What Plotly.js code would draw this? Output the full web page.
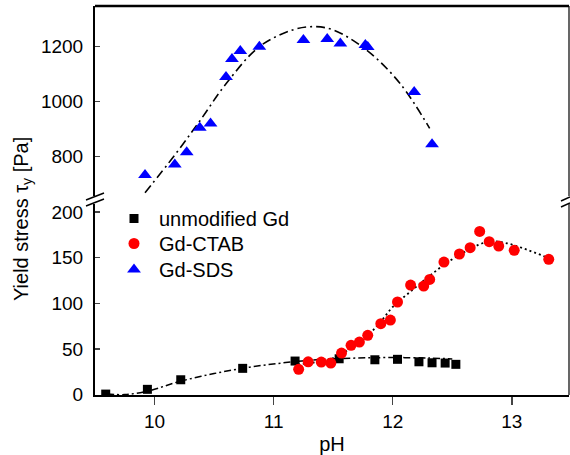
<!DOCTYPE html>
<html><head><meta charset="utf-8">
<script src="https://cdn.plot.ly/plotly-3.0.1.min.js"></script>
<style>body{margin:0;padding:0;background:#fff}#chart{width:570px;height:455px}</style>
</head><body><div id="chart"></div>
<script>
// ---- data ----
const unmodX = [9.59, 9.94, 10.22, 10.74, 11.18, 11.55, 11.85, 12.04, 12.22, 12.33, 12.44, 12.53];
const unmodY = [0.5, 5.7, 16.2, 28.7, 36.7, 39.2, 38.1, 38.6, 35.9, 34.8, 34.5, 33.1];

const ctabX = [11.21, 11.29, 11.40, 11.48, 11.57, 11.65, 11.72, 11.79, 11.90, 11.98, 12.04, 12.15, 12.26, 12.31, 12.43, 12.56, 12.65, 12.73, 12.81, 12.89, 13.02, 13.31];
const ctabY = [27.6, 35.9, 35.6, 34.5, 45.5, 53.9, 57.5, 64.9, 77.6, 81.6, 101.4, 120.0, 118.9, 126.2, 145.2, 154.0, 160.9, 178.8, 167.5, 162.7, 158.0, 148.2];

const sdsX = [9.92, 10.17, 10.27, 10.38, 10.47, 10.60, 10.65, 10.72, 10.88, 11.25, 11.45, 11.56, 11.77, 11.79, 12.18, 12.33];
const sdsY = [733, 772, 816, 905, 921, 1090, 1155, 1184, 1200, 1224, 1228, 1212, 1206, 1199, 1035, 845];

// fitted curves
const unmodFitX = [9.6, 9.75, 9.95, 10.2, 10.5, 10.8, 11.1, 11.4, 11.7, 12.0, 12.3, 12.5];
const unmodFitY = [0.5, 0, 4, 14, 23, 30, 35, 38.5, 40, 40.5, 40, 39];

const ctabFitX = [11.2, 11.35, 11.5, 11.65, 11.8, 11.9, 12.0, 12.15, 12.3, 12.45, 12.6, 12.72, 12.82, 12.95, 13.1, 13.3];
const ctabFitY = [33, 35.5, 40, 51, 66, 80, 96, 113, 129, 144, 156, 164, 168, 166, 160, 150];

const sdsFitX = [9.92, 10.17, 10.38, 10.6, 10.88, 11.16, 11.33, 11.5, 11.78, 12.06, 12.31];
const sdsFitY = [669, 806, 930, 1065, 1200, 1261, 1273, 1261, 1188, 1067, 903];

const seriesNames = ["unmodified Gd", "Gd-CTAB", "Gd-SDS"];
const xTicks = [10, 11, 12, 13];
const yLowTicks = [0, 50, 100, 150, 200];
const yHighTicks = [800, 1000, 1200];

// ---- layout geometry (pixels) ----
const W = 570, H = 455, ML = 95, MR = 1, MT = 6, MB = 60;
const PW = W - ML - MR, PH = H - MT - MB;
const px = v => (v - ML) / PW;          // pixel x -> paper
const py = v => (H - MB - v) / PH;       // pixel y -> paper
const lowTop = py(204), highBot = py(196);

const font = "Liberation Sans, Arial, sans-serif";

const traces = [
  {x: unmodFitX, y: unmodFitY, mode: "lines", line: {color: "#000", width: 1.5, dash: "7px,3px,2px,3px", shape: "spline"}, showlegend: false, hoverinfo: "skip"},
  {x: ctabFitX, y: ctabFitY, mode: "lines", line: {color: "#000", width: 1.8, dash: "2px,3px", shape: "spline"}, showlegend: false, hoverinfo: "skip"},
  {x: sdsFitX, y: sdsFitY, yaxis: "y2", mode: "lines", line: {color: "#000", width: 1.6, dash: "9px,4px,2px,4px", shape: "spline"}, showlegend: false, hoverinfo: "skip"},
  {x: unmodX, y: unmodY, name: seriesNames[0], legend: "legend", mode: "markers", marker: {symbol: "square", size: 9, color: "#000"}},
  {x: ctabX, y: ctabY, name: seriesNames[1], legend: "legend2", mode: "markers", marker: {symbol: "circle", size: 11, color: "#ff0000"}},
  {x: sdsX, y: sdsY, name: seriesNames[2], legend: "legend3", yaxis: "y2", mode: "markers", marker: {symbol: "triangle-up", size: 12, color: "#0000ff"}}
];

const ln = (x0, y0, x1, y1, w, c) => ({type: "line", xref: "paper", yref: "paper",
  x0: px(x0), y0: py(y0), x1: px(x1), y1: py(y1), line: {color: c || "#000", width: w}});

const legendAt = cy => ({x: px(109), y: py(cy - 18), xanchor: "left", yanchor: "top", itemwidth: 40,
  font: {size: 20, family: font}, bgcolor: "rgba(0,0,0,0)"});

const layout = {
  width: W, height: H,
  margin: {l: ML, r: MR, t: MT, b: MB},
  paper_bgcolor: "#fff", plot_bgcolor: "#fff",
  font: {family: font, color: "#000", size: 19},
  showlegend: true,
  legend: legendAt(217),
  legend2: legendAt(242),
  legend3: legendAt(268),
  xaxis: {range: [9.5, 13.48], tickvals: xTicks, ticks: "outside", ticklen: 8, tickwidth: 1.5,
          showline: true, linewidth: 2, linecolor: "#000", showgrid: false, zeroline: false,
          tickfont: {size: 19}, title: {text: "pH", font: {size: 20}, standoff: 7}},
  yaxis: {domain: [0, lowTop], range: [-0.5, 208.8], tickvals: yLowTicks, ticks: "inside", ticklen: 5, tickwidth: 1.5,
          showline: true, linewidth: 2, linecolor: "#000", showgrid: false, zeroline: false,
          tickfont: {size: 19}, ticklabelstandoff: 6},
  yaxis2: {domain: [highBot, 1], range: [657, 1348], tickvals: yHighTicks, ticks: "inside", ticklen: 5, tickwidth: 1.5,
          showline: true, linewidth: 2, linecolor: "#000", showgrid: false, zeroline: false, anchor: "x",
          tickfont: {size: 19}, ticklabelstandoff: 6},
  annotations: [{text: "Yield stress τ<sub>y</sub> [Pa]", textangle: -90, xref: "paper", yref: "paper",
                 x: px(22), y: py(219), xanchor: "center", yanchor: "middle", showarrow: false,
                 font: {size: 20, family: font}}],
  shapes: [
    ln(95, 6, 569, 6, 2.5),
    ln(569, 6, 569, 196, 1.2),
    ln(569, 204, 569, 395, 1.2),
    ln(86, 206, 104, 199, 1.5),
    ln(86, 200, 104, 193, 1.5),
    ln(561, 207, 570, 203, 1.5),
    ln(561, 201, 570, 197, 1.5)
  ]
};

Plotly.newPlot("chart", traces, layout, {staticPlot: true, displayModeBar: false});
</script></body></html>
